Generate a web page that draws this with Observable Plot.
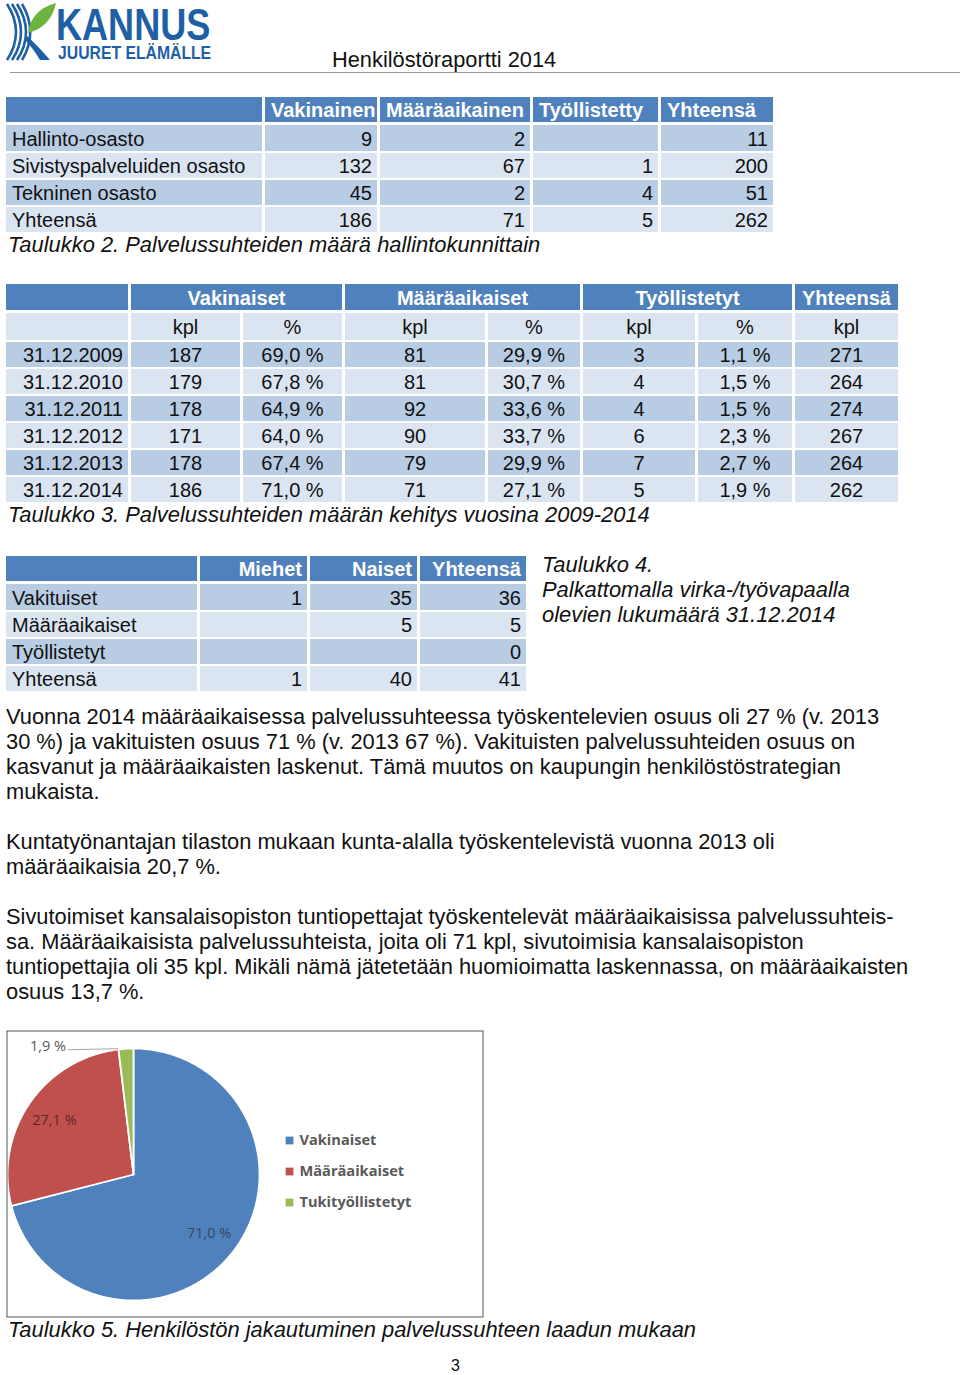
<!DOCTYPE html>
<html><head><meta charset="utf-8">
<script src="https://cdn.jsdelivr.net/npm/d3@7"></script>
<script src="https://cdn.jsdelivr.net/npm/@observablehq/plot@0.6"></script>
<style>
html,body{margin:0;padding:0;background:#fff;}
#page{position:relative;width:960px;height:1375px;overflow:hidden;font-family:"Liberation Sans",Arial,Helvetica,sans-serif;color:#111;}
.abs{position:absolute;white-space:nowrap;line-height:25px;}
.cell{position:absolute;display:flex;align-items:center;box-sizing:border-box;white-space:nowrap;font-size:20px;}
</style></head><body><div id="page"></div>
<script>
// ---------- DATA ----------
// Taulukko 2
const t1Header = ["", "Vakinainen", "Määräaikainen", "Työllistetty", "Yhteensä"];
const t1Units = ["Hallinto-osasto", "Sivistyspalveluiden osasto", "Tekninen osasto", "Yhteensä"];
const t1Vakinainen = [9, 132, 45, 186];
const t1Maaraaikainen = [2, 67, 2, 71];
const t1Tyollistetty = [null, 1, 4, 5];
const t1Yhteensa = [11, 200, 51, 262];
// Taulukko 3
const t2Groups = ["Vakinaiset", "Määräaikaiset", "Työllistetyt", "Yhteensä"];
const t2SubHeader = ["", "kpl", "%", "kpl", "%", "kpl", "%", "kpl"];
const t2Dates = ["31.12.2009", "31.12.2010", "31.12.2011", "31.12.2012", "31.12.2013", "31.12.2014"];
const t2VakKpl = [187, 179, 178, 171, 178, 186];
const t2VakPct = [69.0, 67.8, 64.9, 64.0, 67.4, 71.0];
const t2MaaKpl = [81, 81, 92, 90, 79, 71];
const t2MaaPct = [29.9, 30.7, 33.6, 33.7, 29.9, 27.1];
const t2TyoKpl = [3, 4, 4, 6, 7, 5];
const t2TyoPct = [1.1, 1.5, 1.5, 2.3, 2.7, 1.9];
const t2YhtKpl = [271, 264, 274, 267, 264, 262];
// Taulukko 4
const t3Header = ["", "Miehet", "Naiset", "Yhteensä"];
const t3Rows = ["Vakituiset", "Määräaikaiset", "Työllistetyt", "Yhteensä"];
const t3Miehet = [1, null, null, 1];
const t3Naiset = [35, 5, null, 40];
const t3Yhteensa = [36, 5, 0, 41];
// Taulukko 5 (pie)
const pieLabels = ["Vakinaiset", "Määräaikaiset", "Tukityöllistetyt"];
const pieValues = [71.0, 27.1, 1.9];
const pieColors = ["#4f81bd", "#c0504d", "#9bbb59"];

// ---------- HELPERS ----------
const page = document.getElementById("page");
const HEAD = "#4f81bd", DARK = "#b8cce4", LIGHT = "#dbe5f1";
const fmtPct = v => v.toFixed(1).replace(".", ",") + " %";
const fmt = v => v == null ? "" : String(v);

function cell(x0, x1, y0, y1, bg, text, o = {}) {
  const d = document.createElement("div");
  d.className = "cell";
  d.style.left = x0 + "px"; d.style.top = y0 + "px";
  d.style.width = (x1 - x0) + "px"; d.style.height = (y1 - y0) + "px";
  d.style.background = bg;
  const pad = o.pad ?? 5;
  d.style.justifyContent = o.align === "right" ? "flex-end" : o.align === "center" ? "center" : "flex-start";
  d.style.paddingLeft = pad + "px"; d.style.paddingRight = pad + "px";
  if (o.bold) d.style.fontWeight = "bold";
  if (o.color) d.style.color = o.color;
  if (o.size) d.style.fontSize = o.size + "px";
  d.style.paddingTop = (o.dy ?? 2) + "px";
  d.textContent = text;
  page.appendChild(d);
}
function txt(x, top, text, o = {}) {
  const d = document.createElement("div");
  d.className = "abs";
  d.style.left = x + "px"; d.style.top = top + "px";
  d.style.fontSize = (o.size ?? 20) + "px";
  if (o.italic) d.style.fontStyle = "italic";
  if (o.family) d.style.fontFamily = o.family;
  if (o.color) d.style.color = o.color;
  d.textContent = text;
  page.appendChild(d);
  return d;
}

// ---------- HEADER ----------
page.insertAdjacentHTML("beforeend", `
<svg style="position:absolute;left:0;top:0" width="280" height="70">
  <g fill="none" stroke="#1f5fa5" stroke-width="2.6">
    <path d="M7,4 C19,22 19,42 7,60"/>
    <path d="M12,4 C24,22 24,42 12,60"/>
    <path d="M17,4 C29,22 29,42 17,60"/>
    <path d="M22,4 C33,22 33,42 22,60"/>
  </g>
  <path d="M27,36 Q38,46 50,60 L40,60 Q33,48 25,40 Z" fill="#1f5fa5"/>
  <path d="M28,33 Q31,10 56,3 Q51,27 28,33 Z" fill="#6db33f"/>
  <text transform="translate(56,40) scale(0.82,1)" font-family="Liberation Sans, Arial, sans-serif" font-weight="bold" font-size="44" fill="#1f5fa5">KANNUS</text>
  <text transform="translate(58,59) scale(0.83,1)" font-family="Liberation Sans, Arial, sans-serif" font-weight="bold" font-size="19" fill="#1f5fa5">JUURET ELÄMÄLLE</text>
</svg>
<div style="position:absolute;left:10px;top:72px;width:950px;height:1px;background:#9a9a9a"></div>`);
txt(332, 47, "Henkilöstöraportti 2014", { size: 21.8 });

// ---------- TABLE (Taulukko 2) ----------
{
  const cols = [[6, 262], [265, 377], [380, 530], [533, 658], [661, 773]];
  const rows = [[97, 122], [125, 151], [153, 178], [180, 205], [207, 232]];
  t1Header.forEach((h, j) => cell(cols[j][0], cols[j][1], rows[0][0], rows[0][1], HEAD, h, { bold: true, color: "#fff", pad: 6 }));
  t1Units.forEach((u, i) => {
    const bg = i % 2 === 0 ? DARK : LIGHT;
    const r = rows[i + 1];
    const vals = [u, fmt(t1Vakinainen[i]), fmt(t1Maaraaikainen[i]), fmt(t1Tyollistetty[i]), fmt(t1Yhteensa[i])];
    vals.forEach((v, j) => cell(cols[j][0], cols[j][1], r[0], r[1], bg, v, { align: j === 0 ? "left" : "right", pad: j === 0 ? 6 : 5 }));
  });
  txt(8, 232, "Taulukko 2. Palvelussuhteiden määrä hallintokunnittain", { italic: true, size: 21.9 });
}

// ---------- TABLE (Taulukko 3) ----------
{
  const cols = [[6, 128], [131, 240], [243, 342], [345, 485], [488, 580], [583, 695], [698, 792], [795, 898]];
  const rows = [[284, 310], [313, 340], [342, 367], [369, 394], [396, 421], [423, 448], [450, 475], [477, 502]];
  const spans = [[0, 0], [1, 2], [3, 4], [5, 6], [7, 7]];
  const groupTitles = [""].concat(t2Groups);
  spans.forEach((s, k) => cell(cols[s[0]][0], cols[s[1]][1], rows[0][0], rows[0][1], HEAD, groupTitles[k], { bold: true, color: "#fff", align: "center" }));
  t2SubHeader.forEach((h, j) => cell(cols[j][0], cols[j][1], rows[1][0], rows[1][1], LIGHT, h, { align: "center" }));
  t2Dates.forEach((dt, i) => {
    const bg = i % 2 === 0 ? DARK : LIGHT;
    const r = rows[i + 2];
    const vals = [dt, t2VakKpl[i], fmtPct(t2VakPct[i]), t2MaaKpl[i], fmtPct(t2MaaPct[i]), t2TyoKpl[i], fmtPct(t2TyoPct[i]), t2YhtKpl[i]];
    vals.forEach((v, j) => cell(cols[j][0], cols[j][1], r[0], r[1], bg, String(v), { align: j === 0 ? "right" : "center" }));
  });
  txt(8, 502, "Taulukko 3. Palvelussuhteiden määrän kehitys vuosina 2009-2014", { italic: true, size: 21.9 });
}

// ---------- TABLE (Taulukko 4) ----------
{
  const cols = [[6, 197], [200, 307], [310, 417], [420, 526]];
  const rows = [[556, 581], [584, 610], [612, 637], [639, 664], [666, 691]];
  t3Header.forEach((h, j) => cell(cols[j][0], cols[j][1], rows[0][0], rows[0][1], HEAD, h, { bold: true, color: "#fff", align: "right", pad: 5 }));
  t3Rows.forEach((u, i) => {
    const bg = i % 2 === 0 ? DARK : LIGHT;
    const r = rows[i + 1];
    const vals = [u, fmt(t3Miehet[i]), fmt(t3Naiset[i]), fmt(t3Yhteensa[i])];
    vals.forEach((v, j) => cell(cols[j][0], cols[j][1], r[0], r[1], bg, v, { align: j === 0 ? "left" : "right", pad: j === 0 ? 6 : 5 }));
  });
  txt(542, 552, "Taulukko 4.", { italic: true, size: 21.9 });
  txt(542, 577, "Palkattomalla virka-/työvapaalla", { italic: true, size: 21.9 });
  txt(542, 602, "olevien lukumäärä 31.12.2014", { italic: true, size: 21.9 });
}

// ---------- BODY TEXT ----------
const bodyLines = [
  [704, "Vuonna 2014 määräaikaisessa palvelussuhteessa työskentelevien osuus oli 27 % (v. 2013"],
  [729, "30 %) ja vakituisten osuus 71 % (v. 2013 67 %). Vakituisten palvelussuhteiden osuus on"],
  [754, "kasvanut ja määräaikaisten laskenut. Tämä muutos on kaupungin henkilöstöstrategian"],
  [779, "mukaista."],
  [829, "Kuntatyönantajan tilaston mukaan kunta-alalla työskentelevistä vuonna 2013 oli"],
  [854, "määräaikaisia 20,7 %."],
  [904, "Sivutoimiset kansalaisopiston tuntiopettajat työskentelevät määräaikaisissa palvelussuhteis-"],
  [929, "sa. Määräaikaisista palvelussuhteista, joita oli 71 kpl, sivutoimisia kansalaisopiston"],
  [954, "tuntiopettajia oli 35 kpl. Mikäli nämä jätetetään huomioimatta laskennassa, on määräaikaisten"],
  [979, "osuus 13,7 %."]
];
bodyLines.forEach(([top, s]) => txt(6, top, s, { size: 21.85 }));

// ---------- PIE (Taulukko 5) ----------
{
  const W = 477, H = 287, cx = 127, cy = 144, R = 126;
  const arcs = d3.pie().sort(null)(pieValues);
  const polys = arcs.map(a => {
    const pts = [{ x: cx, y: cy }];
    const n = Math.max(4, Math.ceil((a.endAngle - a.startAngle) / 0.01));
    for (let k = 0; k <= n; k++) {
      const t = a.startAngle + (a.endAngle - a.startAngle) * k / n;
      pts.push({ x: cx + R * Math.sin(t), y: cy - R * Math.cos(t) });
    }
    return pts;
  });
  const mid = a => (a.startAngle + a.endAngle) / 2;
  const inner = arcs.slice(0, 2).map((a, i) => ({
    x: cx + 0.76 * R * Math.sin(mid(a)), y: cy - 0.76 * R * Math.cos(mid(a)), label: fmtPct(pieValues[i]),
    color: i === 0 ? "#33475e" : "#5a2a29"
  }));
  const sm = arcs[2];
  const edge = { x: cx + R * Math.sin(mid(sm)), y: cy - R * Math.cos(mid(sm)) };
  const outer = [{ x1: edge.x - 8, y1: edge.y, x2: edge.x - 58, y2: edge.y + 1, label: fmtPct(pieValues[2]) }];
  const legendY = (d, i) => 110 + 31 * i;
  const pieFont = "Open Sans, Noto Sans, sans-serif";

  const chart = Plot.plot({
    width: W, height: H, margin: 0,
    x: { domain: [0, W], range: [0, W], axis: null },
    y: { domain: [0, H], range: [0, H], axis: null },
    color: { domain: pieLabels, range: pieColors },
    style: { background: "transparent", overflow: "visible" },
    marks: [
      ...polys.map((pts, i) => Plot.line(pts, { x: "x", y: "y", fill: pieColors[i], stroke: "white", strokeWidth: 1.8, curve: "linear-closed" })),
      Plot.text(inner, { x: "x", y: "y", text: "label", fontSize: 14.5, fontFamily: pieFont, fill: "color", letterSpacing: "-0.3px" }),
      Plot.link(outer, { x1: "x1", y1: "y1", x2: "x2", y2: "y2", stroke: "#a6a6a6", strokeWidth: 1 }),
      Plot.text(outer, { x: d => d.x2 - 2, y: d => d.y2 - 3, text: "label", textAnchor: "end", fontSize: 14.5, fontFamily: pieFont, fill: "#595959" }),
      Plot.dot(pieLabels, { x: () => 283, y: legendY, fill: d => d, symbol: "square", r: 4.4 }),
      Plot.text(pieLabels, { x: () => 293, y: legendY, text: d => d, textAnchor: "start", fontSize: 14.6, fontWeight: "bold", fontFamily: pieFont, fill: "#595959" }),
      Plot.frame({ stroke: "#555", inset: 0.5 })
    ]
  });
  chart.style.position = "absolute";
  chart.style.left = "6px";
  chart.style.top = "1030px";
  page.appendChild(chart);
  txt(8, 1317, "Taulukko 5. Henkilöstön jakautuminen palvelussuhteen laadun mukaan", { italic: true, size: 21.9 });
  txt(451, 1353, "3", { size: 16 });
}
</script></body></html>
